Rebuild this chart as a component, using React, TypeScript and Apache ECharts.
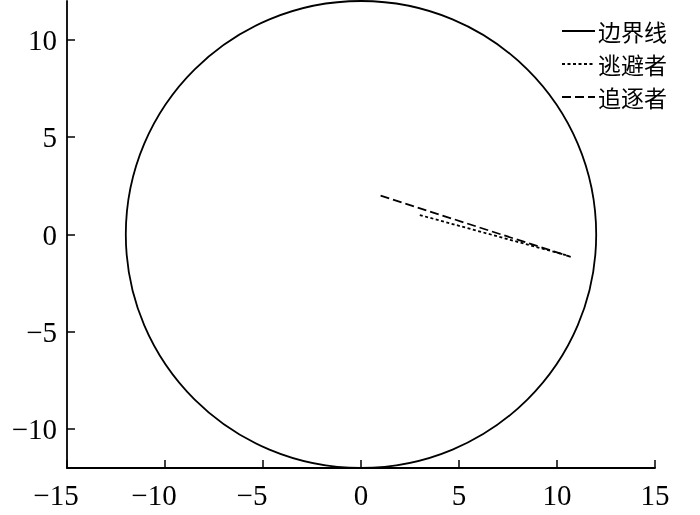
import React, { useEffect, useRef } from "react";
import * as echarts from "echarts";

const xTicks = [-15, -10, -5, 0, 5, 10, 15];
const yTicks = [-10, -5, 0, 5, 10];
const boundary = [[0, 0, 12]]; // centre x, centre y, radius
const evader = [
  [3, 1],
  [10.6, -1.1],
];
const chaser = [
  [1, 2],
  [10.7, -1.15],
];
const legendNames = ["边界线", "逃避者", "追逐者"];

const numFmt = (v: number) => String(v).replace("-", "\u2212");
const xFmt = (v: number) => (v < 0 ? `{n|${numFmt(v)}}` : `{p|${v}}`);

export default function App() {
  const ref = useRef<HTMLDivElement>(null);
  useEffect(() => {
    if (!ref.current) return;
    const chart = echarts.init(ref.current, undefined, { renderer: "svg" });
    const labelFont = { fontFamily: "Liberation Serif", fontSize: 29, color: "#000" };
    const legendDash: any[] = ["solid", [3, 2.5], [9, 4]];
    chart.setOption({
      animation: false,
      grid: { left: 67, right: 45, top: 1, bottom: 47, containLabel: false },
      xAxis: {
        type: "value",
        min: -15,
        max: 15,
        interval: 5,
        splitLine: { show: false },
        axisLine: { onZero: false, lineStyle: { color: "#000", width: 1.8 } },
        axisTick: { inside: true, length: 8, lineStyle: { color: "#000", width: 1.5 }, customValues: xTicks },
        axisLabel: {
          ...labelFont,
          margin: 12,
          formatter: xFmt,
          customValues: xTicks,
          rich: {
            n: { ...labelFont, padding: [0, 22, 0, 0] },
            p: { ...labelFont },
          },
        },
      },
      yAxis: {
        type: "value",
        min: -12,
        max: 12,
        splitLine: { show: false },
        axisLine: { onZero: false, lineStyle: { color: "#000", width: 1.8 } },
        axisTick: { inside: true, length: 8, lineStyle: { color: "#000", width: 1.5 }, customValues: yTicks },
        axisLabel: { ...labelFont, margin: 10, formatter: numFmt, customValues: yTicks },
      },
      series: [
        {
          type: "custom",
          name: legendNames[0],
          data: boundary,
          renderItem: (params: any, api: any) => {
            const c = api.coord([api.value(0), api.value(1)]);
            const s = api.size([api.value(2), api.value(2)]);
            return {
              type: "ellipse",
              shape: { cx: c[0], cy: c[1], rx: s[0], ry: s[1] },
              style: { fill: "none", stroke: "#000", lineWidth: 1.8 },
              silent: true,
            };
          },
          clip: false,
        },
        {
          type: "line",
          name: legendNames[1],
          data: evader,
          symbol: "none",
          lineStyle: { color: "#000", width: 1.8, type: [3, 2.5] },
        },
        {
          type: "line",
          name: legendNames[2],
          data: chaser,
          symbol: "none",
          lineStyle: { color: "#000", width: 1.8, type: [9, 4] },
        },
      ],
      graphic: legendNames.flatMap((n, i) => {
        const y = 31 + i * 33;
        return [
          {
            type: "line",
            shape: { x1: 562, y1: y, x2: 595, y2: y },
            style: { stroke: "#000", lineWidth: 1.8, lineDash: legendDash[i] === "solid" ? null : legendDash[i] },
          },
          {
            type: "text",
            x: 598,
            y: y,
            style: {
              text: n,
              fill: "#000",
              font: '23px "Noto Sans CJK SC", serif',
              lineHeight: 23,
              verticalAlign: "middle",
            },
          },
        ];
      }),
    });
    return () => chart.dispose();
  }, []);
  return <div ref={ref} style={{ width: 700, height: 515, position: "fixed", left: 0, top: 0 }} />;
}
